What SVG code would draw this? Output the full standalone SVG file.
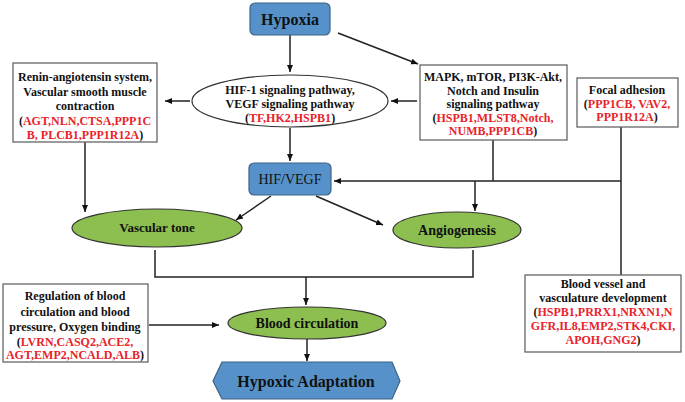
<svg xmlns="http://www.w3.org/2000/svg" width="685" height="402" viewBox="0 0 685 402" font-family="'Liberation Serif', 'Times New Roman', 'DejaVu Serif', serif">
<defs>
<marker id="ah" markerWidth="8" markerHeight="8" refX="7" refY="4" orient="auto" markerUnits="userSpaceOnUse">
<path d="M0,1 L7,4 L0,7 Z" fill="#111"/>
</marker>
<style>
text{font-family:'Liberation Serif','Times New Roman','DejaVu Serif',serif}
.t{font-weight:bold;font-size:12px;fill:#111;text-anchor:middle}
.r{fill:#e8232a}
.box{fill:#fff;stroke:#666;stroke-width:1.3}
.blue{fill:#5692c9;stroke:#3d6286;stroke-width:1.2}
.green{fill:#8cbf4f;stroke:#333;stroke-width:1.2}
.ln{stroke:#222;stroke-width:1.5;fill:none}
.big{font-size:16px}
</style>
</defs>
<rect width="685" height="402" fill="#fff"/>

<g id="connectors">
<line class="ln" x1="290" y1="35" x2="290" y2="72" marker-end="url(#ah)"/>
<line class="ln" x1="338" y1="33" x2="418" y2="64" marker-end="url(#ah)"/>
<line class="ln" x1="417" y1="101" x2="391" y2="101" marker-end="url(#ah)"/>
<line class="ln" x1="190" y1="101" x2="165" y2="101" marker-end="url(#ah)"/>
<line class="ln" x1="290" y1="128" x2="290" y2="161" marker-end="url(#ah)"/>
<polyline class="ln" points="621,127 621,275"/>
<line class="ln" x1="621" y1="181" x2="334" y2="181" marker-end="url(#ah)"/>
<line class="ln" x1="493" y1="140" x2="493" y2="181"/>
<line class="ln" x1="475" y1="181" x2="475" y2="211" marker-end="url(#ah)"/>
<line class="ln" x1="85" y1="142" x2="85" y2="212" marker-end="url(#ah)"/>
<line class="ln" x1="271" y1="196" x2="236" y2="220" marker-end="url(#ah)"/>
<line class="ln" x1="316" y1="196" x2="383" y2="225" marker-end="url(#ah)"/>
<polyline class="ln" points="155,250 155,277 473,277 473,250"/>
<line class="ln" x1="306" y1="277" x2="306" y2="305" marker-end="url(#ah)"/>
<line class="ln" x1="149" y1="325" x2="219" y2="325" marker-end="url(#ah)"/>
<line class="ln" x1="307" y1="339" x2="307" y2="361" marker-end="url(#ah)"/>
</g>

<g id="hypoxia">
<rect class="blue" x="250" y="3" width="80" height="32" rx="5"/>
<text class="t big" x="290" y="25">Hypoxia</text>
</g>

<g id="hif1">
<ellipse cx="290" cy="101" rx="98" ry="26" fill="#fff" stroke="#333" stroke-width="1.2"/>
<text class="t" x="290" y="94">HIF-1 signaling pathway,</text>
<text class="t" x="290" y="108">VEGF signaling pathway</text>
<text class="t" x="290" y="122">(<tspan class="r">TF,HK2,HSPB1</tspan>)</text>
</g>

<g id="renin">
<rect class="box" x="13" y="63" width="144" height="79"/>
<text class="t" x="85" y="81">Renin-angiotensin system,</text>
<text class="t" x="85" y="96">Vascular smooth muscle</text>
<text class="t" x="85" y="110">contraction</text>
<text class="t" x="85" y="125">(<tspan class="r">AGT,NLN,CTSA,PPP1C</tspan></text>
<text class="t" x="85" y="139"><tspan class="r">B, PLCB1,PPP1R12A</tspan>)</text>
</g>

<g id="mapk">
<rect class="box" x="420" y="65" width="147" height="75"/>
<text class="t" x="493" y="81">MAPK, mTOR, PI3K-Akt,</text>
<text class="t" x="493" y="95">Notch and Insulin</text>
<text class="t" x="493" y="108">signaling pathway</text>
<text class="t" x="493" y="122">(<tspan class="r">HSPB1,MLST8,Notch,</tspan></text>
<text class="t" x="493" y="135"><tspan class="r">NUMB,PPP1CB</tspan>)</text>
</g>

<g id="focal">
<rect class="box" x="577" y="78" width="101" height="49"/>
<text class="t" x="627" y="94">Focal adhesion</text>
<text class="t" x="627" y="108">(<tspan class="r">PPP1CB, VAV2,</tspan></text>
<text class="t" x="627" y="121"><tspan class="r">PPP1R12A</tspan>)</text>
</g>

<g id="hifvegf">
<rect class="blue" x="249" y="163" width="82" height="32" rx="5"/>
<text class="t" x="290" y="184" style="font-weight:normal;font-size:14px">HIF/VEGF</text>
</g>

<g id="vasculartone">
<ellipse class="green" cx="157" cy="228" rx="85" ry="19"/>
<text class="t" x="157" y="232" style="font-size:13px">Vascular tone</text>
</g>

<g id="angiogenesis">
<ellipse class="green" cx="457" cy="230" rx="64" ry="18"/>
<text class="t" x="457" y="235" style="font-size:14px">Angiogenesis</text>
</g>

<g id="bloodcirc">
<ellipse class="green" cx="307" cy="323" rx="79" ry="16"/>
<text class="t" x="307" y="328" style="font-size:14px">Blood circulation</text>
</g>

<g id="regulation">
<rect class="box" x="3" y="284" width="145" height="78"/>
<text class="t" x="75" y="300">Regulation of blood</text>
<text class="t" x="75" y="316">circulation and blood</text>
<text class="t" x="75" y="331">pressure, Oxygen binding</text>
<text class="t" x="75" y="346">(<tspan class="r">LVRN,CASQ2,ACE2,</tspan></text>
<text class="t" x="75" y="359"><tspan class="r">AGT,EMP2,NCALD,ALB</tspan>)</text>
</g>

<g id="bloodvessel">
<rect class="box" x="525" y="275" width="156" height="77"/>
<text class="t" x="603" y="288">Blood vessel and</text>
<text class="t" x="603" y="302">vasculature development</text>
<text class="t" x="603" y="316">(<tspan class="r">HSPB1,PRRX1,NRXN1,N</tspan></text>
<text class="t" x="603" y="330"><tspan class="r">GFR,IL8,EMP2,STK4,CKI,</tspan></text>
<text class="t" x="603" y="344"><tspan class="r">APOH,GNG2</tspan>)</text>
</g>

<g id="adaptation">
<polygon class="blue" points="213,381 222,362 392,362 400,381 392,399 222,399"/>
<text class="t big" x="306" y="387">Hypoxic Adaptation</text>
</g>
</svg>
